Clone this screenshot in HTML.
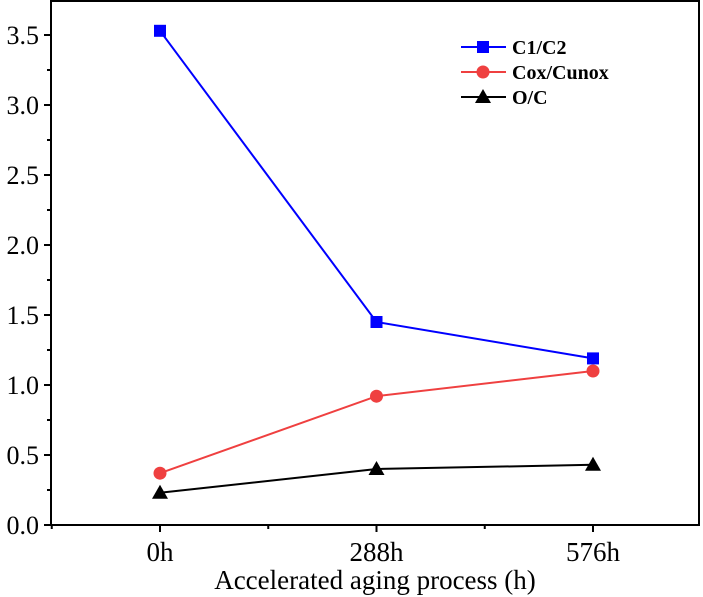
<!DOCTYPE html>
<html><head><meta charset="utf-8"><style>
body{margin:0;background:#fff}
svg{display:block;font-family:"Liberation Serif",serif}
</style></head><body>
<svg id="c" width="703" height="597"></svg>
<script>
const categories=["0h","288h","576h"];
const seriesNames=["C1/C2","Cox/Cunox","O/C"];
const c1c2=[3.53,1.45,1.19];
const coxCunox=[0.37,0.92,1.10];
const oc=[0.23,0.40,0.43];
const yTicks=[0,0.5,1.0,1.5,2.0,2.5,3.0,3.5];
const yTickLabels=["0.0","0.5","1.0","1.5","2.0","2.5","3.0","3.5"];
const NS="http://www.w3.org/2000/svg";
const svg=document.getElementById('c');
const L=51,R=699,T=1,B=525;
function y(v){return B-v*140;}
function x(i){return 160+i*216.5;}
function el(t,a,p){const e=document.createElementNS(NS,t);for(const k in a)e.setAttribute(k,a[k]);(p||svg).appendChild(e);return e;}
const frame=el('rect',{x:L,y:T,width:R-L,height:B-T,fill:'none',stroke:'#000','stroke-width':2});


yTicks.forEach((v,i)=>{
  const t=el('line',{x1:L-7,x2:L,y1:y(v),y2:y(v),stroke:'#000','stroke-width':2});
  
  
  const lb=el('text',{x:L-12,y:y(v)+9,'text-anchor':'end','font-size':26});
  lb.textContent=yTickLabels[i];
  
  
  if(i<yTicks.length-1){
    const m=el('line',{x1:L-4,x2:L,y1:y(v+0.25),y2:y(v+0.25),stroke:'#000','stroke-width':2});
    
    
  }
});
for(let k=-0.5;k<=3;k+=0.5){
  const xx=160+k*216.5;
  if(xx<L||xx>R)continue;
  const major=Number.isInteger(k);
  const t=el('line',{x1:xx,x2:xx,y1:B,y2:B+(major?7:4),stroke:'#000','stroke-width':2});
  
  
}
categories.forEach((c,i)=>{
  const lb=el('text',{x:x(i),y:B+36,'text-anchor':'middle','font-size':27});
  lb.textContent=c;
  
  
});
const xt=el('text',{x:375,y:589,'text-anchor':'middle','font-size':27});
xt.textContent="Accelerated aging process (h)";


function marker(type,cx,cy,col,parent){
  let m;
  if(type==='sq')m=el('rect',{x:cx-6,y:cy-6,width:12,height:12,fill:col},parent);
  else if(type==='ci')m=el('circle',{cx:cx,cy:cy,r:6.5,fill:col},parent);
  else m=el('polygon',{points:`${cx},${cy-8} ${cx-8},${cy+6} ${cx+8},${cy+6}`,fill:col},parent);
  return m;
}
const all=[[c1c2,'#0000ff','sq','c1c2'],[coxCunox,'#ef4040','ci','cox-cunox'],[oc,'#000','tr','o-c']];
all.forEach(([d,col,mk,nm])=>{
  const g=el('g',{});
  
  
  const pl=el('polyline',{points:d.map((v,i)=>x(i)+','+y(v)).join(' '),fill:'none',stroke:col,'stroke-width':2},g);
  
  
  d.forEach((v,i)=>{
    const m=marker(mk,x(i),y(v),col,g);
    
    
  });
});
all.forEach(([d,col,mk,nm],i)=>{
  const g=el('g',{});
  
  
  const ly=47+i*25;
  el('line',{x1:461,x2:506,y1:ly,y2:ly,stroke:col,'stroke-width':2},g);
  marker(mk,483,ly,col,g);
  const t=el('text',{x:512,y:ly+7,'font-size':20,'font-weight':'bold'},g);
  t.textContent=seriesNames[i];
});
</script>
</body></html>
